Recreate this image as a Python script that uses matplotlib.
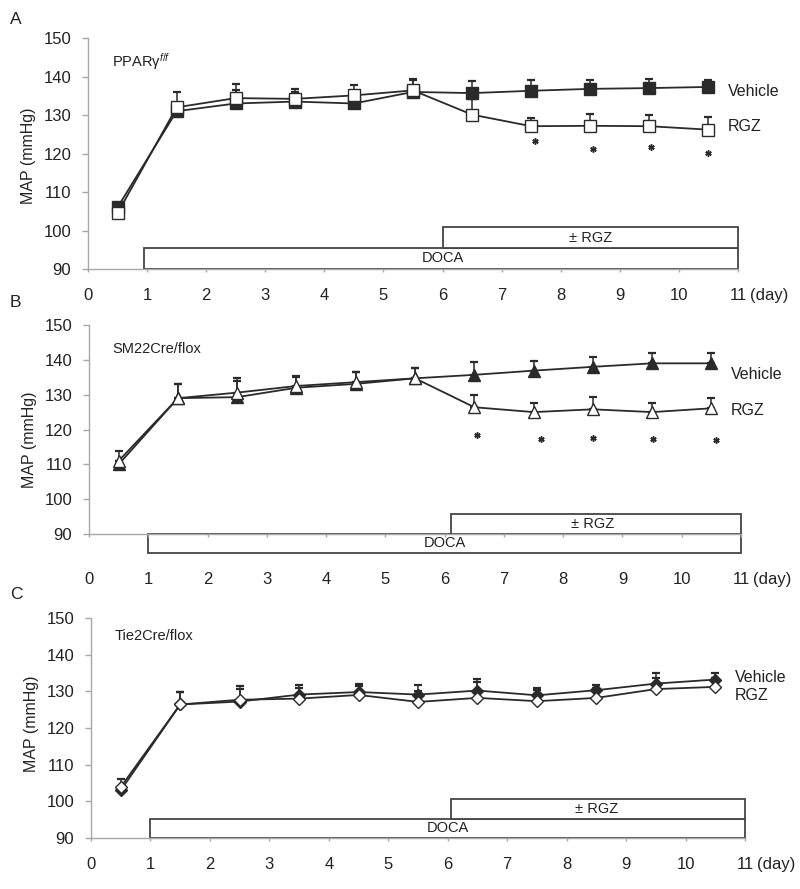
import numpy as np
import matplotlib
matplotlib.use("Agg")
import matplotlib.pyplot as plt
from matplotlib.patches import Rectangle

plt.rcParams['font.family'] = ['Liberation Sans', 'DejaVu Sans']
plt.rcParams['mathtext.fontset'] = 'custom'
plt.rcParams['mathtext.rm'] = 'Liberation Sans'
plt.rcParams['mathtext.it'] = 'Liberation Sans:italic'

# days (measurement points)
days = [0.5, 1.5, 2.5, 3.5, 4.5, 5.5, 6.5, 7.5, 8.5, 9.5, 10.5]
x_ticks = [0, 1, 2, 3, 4, 5, 6, 7, 8, 9, 10, 11]
y_ticks = [90, 100, 110, 120, 130, 140, 150]

# panel A - PPARg f/f
a_vehicle = [106, 131, 133, 133.5, 133, 136, 135.7, 136.3, 136.8, 137, 137.3]
a_vehicle_err = [1, 1, 3.5, 2.5, 2.5, 3, 3.2, 2.7, 2.4, 2.4, 1.7]
a_rgz = [104.5, 132, 134.4, 134.2, 135.1, 136.4, 130.1, 127.1, 127.2, 127.1, 126.2]
a_rgz_err = [1.5, 3.9, 3.7, 2.6, 2.6, 2.9, 4, 2.1, 3.1, 2.9, 3.3]
a_star_x = [7.56, 8.55, 9.53, 10.5]
a_star_y = [123.2, 121.3, 121.6, 120.1]

# panel B - SM22Cre/flox
b_vehicle = [110, 129, 129.3, 132, 133.1, 134.7, 135.7, 136.9, 138, 139, 139]
b_vehicle_err = [1, 4, 4.5, 3, 3.3, 2.9, 3.6, 2.9, 2.9, 2.9, 2.9]
b_rgz = [111, 129, 130.6, 132.5, 133.6, 134.7, 126.4, 125, 125.8, 125, 126.1]
b_rgz_err = [2.7, 4, 4.2, 2.9, 3, 2.9, 3.6, 2.7, 3.4, 2.7, 2.9]
b_star_x = [6.54, 7.63, 8.5, 9.51, 10.57]
b_star_y = [118.3, 117.2, 117.7, 117.2, 117]

# panel C - Tie2Cre/flox
c_vehicle = [103, 126.4, 127.2, 129.1, 129.8, 129.1, 130.2, 128.9, 130.3, 132.1, 133.2]
c_vehicle_err = [1, 3.5, 3.3, 2.6, 2.2, 2.7, 3.2, 1.9, 1.3, 2.8, 1.9]
c_rgz = [103.9, 126.4, 127.7, 128, 129, 127.1, 128.2, 127.3, 128.2, 130.6, 131.2]
c_rgz_err = [2.2, 3.5, 3.8, 2.9, 2.5, 3, 4.3, 3, 2.8, 3.1, 2.5]

# treatment bars: (start day, end day, bottom, top)
a_doca = (0.95, 11, 90, 95.5)
a_rgzbar = (6, 11, 95.5, 100.8)
b_doca = (1.0, 11, 84.6, 90)
b_rgzbar = (6.1, 11, 90, 95.8)
c_doca = (1.0, 11, 90, 95.2)
c_rgzbar = (6.05, 11, 95.2, 100.6)

LINE = '#2a2a2a'
AXC = '#a8a8a8'
TXT = '#222222'


def series(ax, y, err, marker, filled, ms, z):
    face = LINE if filled else 'white'
    ax.errorbar(days, y, yerr=[np.zeros(len(err)), err], fmt='none',
                ecolor=LINE, elinewidth=1.1, capsize=3, capthick=1.6, zorder=z)
    ax.plot(days, y, color=LINE, lw=1.3, marker=marker, ms=ms,
            mfc=face, mec=LINE, mew=1.0, zorder=z + 0.5)


def bar(ax, spec, label, tx):
    x0, x1, y0, y1 = spec
    r = Rectangle((x0, y0), x1 - x0, y1 - y0, facecolor='white',
                  edgecolor='#444444', lw=1.3, clip_on=False, zorder=1)
    ax.add_patch(r)
    ax.text(tx, (y0 + y1) / 2, label, ha='center', va='center',
            fontsize=10.5, color=TXT, clip_on=False, zorder=2)


def setup_axes(ax, xpad, ylab_y):
    ax.set_xlim(0, 11)
    ax.set_ylim(90, 150)
    ax.set_xticks(x_ticks)
    ax.set_yticks(y_ticks)
    for s in ['top', 'right']:
        ax.spines[s].set_visible(False)
    for s in ['left', 'bottom']:
        ax.spines[s].set_color(AXC)
        ax.spines[s].set_linewidth(1.0)
    ax.tick_params(axis='x', length=2.5, width=1, color=AXC, pad=xpad,
                   labelsize=12, labelcolor=TXT)
    ax.tick_params(axis='y', length=4, width=1, color=AXC, pad=8,
                   labelsize=12, labelcolor=TXT)
    ax.set_ylabel('MAP (mmHg)', fontsize=11.5, color=TXT)
    ax.yaxis.set_label_coords(-0.08, ylab_y)
    ax.annotate('(day)', xy=(11.2, 0), xycoords=('data', 'axes fraction'),
                xytext=(0, -(2.5 + xpad)), textcoords='offset points',
                ha='left', va='top', fontsize=12, color=TXT,
                annotation_clip=False)


def panel(ax, veh, veh_err, rgz, rgz_err, marker_f, marker_o, ms,
          stars_x, stars_y, doca, rgzbar, name, name_y, veh_y, rgz_y,
          xpad, ylab_y):
    setup_axes(ax, xpad, ylab_y)
    bar(ax, doca, 'DOCA', 6.0)
    bar(ax, rgzbar, '± RGZ', 8.5)
    series(ax, veh, veh_err, marker_f, True, ms, 3)
    series(ax, rgz, rgz_err, marker_o, False, ms, 4)
    if len(stars_x) > 0:
        ax.plot(stars_x, stars_y, ls='none', marker=(6, 2, 0), ms=4.5,
                color=LINE, mew=1.1)
    ax.text(0.4, name_y, name, fontsize=10.5, color=TXT, va='center')
    ax.text(10.83, veh_y, 'Vehicle', fontsize=11.5, color=TXT, va='center',
            clip_on=False)
    ax.text(10.83, rgz_y, 'RGZ', fontsize=11.5, color=TXT, va='center',
            clip_on=False)


fig = plt.figure(figsize=(8, 8.89), dpi=100)

axA = fig.add_axes([0.11, 0.6974, 0.8125, 0.2598])
panel(axA, a_vehicle, a_vehicle_err, a_rgz, a_rgz_err, 's', 's', 8,
      a_star_x, a_star_y, a_doca, a_rgzbar, 'PPARγ$^{f/f}$', 144,
      136.2, 127, 11, 0.49)

axB = fig.add_axes([0.1113, 0.3993, 0.815, 0.2351])
panel(axB, b_vehicle, b_vehicle_err, b_rgz, b_rgz_err, '^', '^', 8.5,
      b_star_x, b_star_y, b_doca, b_rgzbar, 'SM22Cre/flox', 143,
      135.7, 125.5, 25, 0.45)

axC = fig.add_axes([0.1138, 0.0574, 0.8175, 0.2475])
panel(axC, c_vehicle, c_vehicle_err, c_rgz, c_rgz_err, 'D', 'D', 6.5,
      [], [], c_doca, c_rgzbar, 'Tie2Cre/flox', 145.2,
      133.8, 128.9, 11, 0.52)

fig.text(0.0125, 0.9865, 'A', fontsize=12.5, color=TXT, ha='left', va='top')
fig.text(0.0125, 0.668, 'B', fontsize=12.5, color=TXT, ha='left', va='top')
fig.text(0.0125, 0.340, 'C', fontsize=12.5, color=TXT, ha='left', va='top')

fig.savefig('out.png', dpi=100)
